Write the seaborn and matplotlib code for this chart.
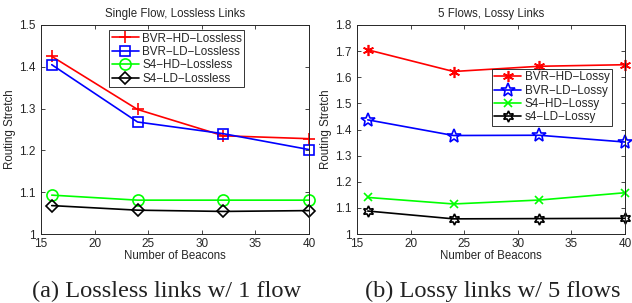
import matplotlib
matplotlib.use("Agg")
import matplotlib.pyplot as plt
import seaborn as sns
import pandas as pd

beacons = [16, 24, 32, 40]

left_names = ["BVR\u2212HD\u2212Lossless", "BVR\u2212LD\u2212Lossless", "S4\u2212HD\u2212Lossless", "S4\u2212LD\u2212Lossless"]
left_bvr_hd = [1.425, 1.298, 1.235, 1.228]
left_bvr_ld = [1.405, 1.268, 1.240, 1.202]
left_s4_hd = [1.093, 1.081, 1.081, 1.081]
left_s4_ld = [1.068, 1.057, 1.054, 1.056]

right_names = ["BVR\u2212HD\u2212Lossy", "BVR\u2212LD\u2212Lossy", "S4\u2212HD\u2212Lossy", "s4\u2212LD\u2212Lossy"]
right_bvr_hd = [1.705, 1.622, 1.642, 1.648]
right_bvr_ld = [1.437, 1.377, 1.378, 1.352]
right_s4_hd = [1.140, 1.115, 1.130, 1.158]
right_s4_ld = [1.088, 1.058, 1.059, 1.060]

colors = ["#ff0000", "#0000ff", "#00ff00", "#000000"]

sns.set_style("ticks")
plt.rcParams["font.family"] = ["Liberation Sans", "DejaVu Sans"]
plt.rcParams["xtick.direction"] = "in"
plt.rcParams["ytick.direction"] = "in"

fig = plt.figure(figsize=(6.32, 3.03), dpi=100)
axL = fig.add_axes([0.0649, 0.2277, 0.4241, 0.6898])
axR = fig.add_axes([0.5649, 0.2277, 0.4241, 0.6898])

def draw(ax, names, series, markers, sizes, title, ylim, yticks, legloc):
    rows = []
    for n, s in zip(names, series):
        for b, v in zip(beacons, s):
            rows.append({"beacons": b, "value": v, "series": n})
    df = pd.DataFrame(rows)
    for i, n in enumerate(names):
        sub = df[df["series"] == n]
        sns.lineplot(data=sub, x="beacons", y="value", ax=ax, color=colors[i],
                     marker=markers[i], markersize=sizes[i], markerfacecolor="none",
                     markeredgecolor=colors[i], markeredgewidth=1.2, linewidth=1.2,
                     label=n, clip_on=False)
    ax.set_xlim(15, 40)
    ax.set_ylim(*ylim)
    ax.set_xticks([15, 20, 25, 30, 35, 40])
    ax.set_yticks(yticks)
    ax.set_yticklabels([("%g" % t) for t in yticks])
    ax.tick_params(labelsize=8.5, length=3, width=0.6, top=True, right=True)
    ax.tick_params(axis="x", pad=3)
    ax.tick_params(axis="y", pad=4)
    ax.set_xlabel("Number of Beacons", fontsize=8.3, labelpad=0)
    ax.set_ylabel("Routing Stretch", fontsize=8.3, labelpad=2)
    ax.set_title(title, fontsize=8.3, pad=6)
    for sp in ax.spines.values():
        sp.set_linewidth(0.7)
        sp.set_visible(True)
    leg = ax.legend(loc="upper left", bbox_to_anchor=legloc, fontsize=8.4,
                    frameon=True, fancybox=False, edgecolor="black",
                    handlelength=2.3, handletextpad=0.3, borderpad=0.2,
                    labelspacing=0.12, borderaxespad=0)
    leg.get_frame().set_linewidth(0.7)

draw(axL, left_names, [left_bvr_hd, left_bvr_ld, left_s4_hd, left_s4_ld],
     ["+", "s", "o", "D"], [9, 7, 8, 6],
     "Single Flow, Lossless Links", (1.0, 1.5), [1, 1.1, 1.2, 1.3, 1.4, 1.5], (0.255, 0.975))
draw(axR, right_names, [right_bvr_hd, right_bvr_ld, right_s4_hd, right_s4_ld],
     [(6, 2, 0), "*", "x", (6, 1, 0)], [8, 10, 6, 8],
     "5 Flows, Lossy Links", (1.0, 1.8), [1, 1.1, 1.2, 1.3, 1.4, 1.5, 1.6, 1.7, 1.8], (0.504, 0.79))

fig.text(0.263, 0.02, "(a) Lossless links w/ 1 flow", family="Liberation Serif", fontsize=17.6, ha="center", color="#222222")
fig.text(0.78, 0.02, "(b) Lossy links w/ 5 flows", family="Liberation Serif", fontsize=17.6, ha="center", color="#222222")

fig.savefig("out.png", dpi=100)
